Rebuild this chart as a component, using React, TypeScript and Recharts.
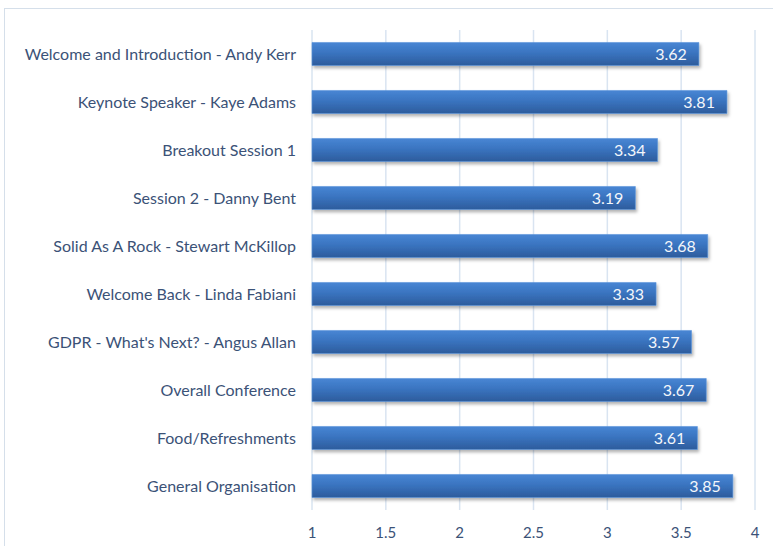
import { BarChart, Bar, XAxis, YAxis, CartesianGrid, LabelList } from "recharts"

const sessions = [
  "Welcome and Introduction - Andy Kerr",
  "Keynote Speaker - Kaye Adams",
  "Breakout Session 1 ",
  "Session 2 - Danny Bent",
  "Solid As A Rock - Stewart McKillop",
  "Welcome Back - Linda Fabiani",
  "GDPR - What's Next? - Angus Allan ",
  "Overall Conference",
  "Food/Refreshments",
  "General Organisation",
]
const scores = [3.62, 3.81, 3.34, 3.19, 3.68, 3.33, 3.57, 3.67, 3.61, 3.85]
const xTicks = [1, 1.5, 2, 2.5, 3, 3.5, 4]

const data = sessions.map((name, i) => ({ name, score: scores[i] }))

const font = "Lato, 'Open Sans', sans-serif"

export default function App() {
  return (
    <div style={{ position: "absolute", left: 0, top: 0, width: 773, height: 546, background: "#fff", overflow: "hidden" }}>
      <div
        style={{
          position: "absolute",
          left: 4,
          top: 8,
          width: 800,
          height: 600,
          border: "1px solid #d5dfea",
        }}
      />
      <div style={{ position: "absolute", left: 0, top: 0 }}>
        <BarChart
          width={773}
          height={546}
          data={data}
          layout="vertical"
          barCategoryGap="26%"
          margin={{ top: 30, right: 18, bottom: 0, left: 0 }}
        >
          <defs>
            <linearGradient id="barFill" x1="0" y1="0" x2="0" y2="1">
              <stop offset="0%" stopColor="#4886d4" />
              <stop offset="45%" stopColor="#3a74c0" />
              <stop offset="100%" stopColor="#2d5c9c" />
            </linearGradient>
            <filter id="shadow" x="-5%" y="-20%" width="110%" height="160%">
              <feDropShadow dx="1.5" dy="2.5" stdDeviation="1.5" floodColor="#000" floodOpacity="0.3" />
            </filter>
          </defs>
          <CartesianGrid horizontal={false} stroke="#d9e4f1" strokeWidth={1.5} />
          <XAxis
            type="number"
            domain={[1, 4]}
            ticks={xTicks}
            height={36}
            axisLine={false}
            tickLine={false}
            tickMargin={11}
            tick={{ fill: "#3b5277", fontSize: 15, fontFamily: font }}
          />
          <YAxis
            type="category"
            dataKey="name"
            width={312}
            axisLine={false}
            tickLine={false}
            tickSize={0}
            tickMargin={16}
            interval={0}
            tick={{ fill: "#3b5277", fontSize: 16, fontFamily: font }}
          />
          <Bar
            dataKey="score"
            fill="url(#barFill)"
            stroke="#5b93d8"
            strokeWidth={0.6}
            filter="url(#shadow)"
            isAnimationActive={false}
          >
            <LabelList
              dataKey="score"
              position="insideRight"
              offset={12}
              fill="#f4f7fb"
              fontSize={16}
              fontFamily={font}
            />
          </Bar>
        </BarChart>
      </div>
    </div>
  )
}
